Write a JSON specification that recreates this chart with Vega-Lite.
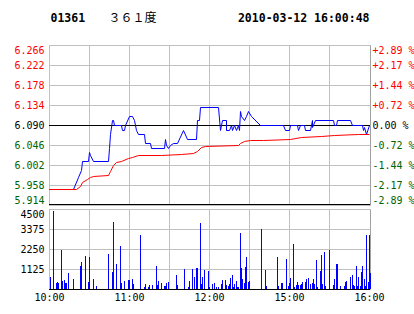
{
  "$schema": "https://vega.github.io/schema/vega-lite/v6.json",
  "background": "white",
  "padding": {"left": 13, "top": 10, "right": 0, "bottom": 0},
  "spacing": 4,
  "bounds": "flush",
  "config": {
    "view": {"stroke": "#A0A0A0", "strokeWidth": 1},
    "axis": {"labelFont": "DejaVu Sans Mono", "labelFontSize": 10, "labelColor": "black", "ticks": false, "domain": false, "gridColor": "#C0C0C0", "gridWidth": 1, "labelOverlap": false}
  },
  "datasets": {
    "price": [
      {"m": 0, "p": 5.95}, {"m": 18, "p": 5.95}, {"m": 22, "p": 5.975}, {"m": 24, "p": 5.99}, {"m": 25, "p": 6.01},
      {"m": 29, "p": 6.01}, {"m": 30, "p": 6.03}, {"m": 31, "p": 6.025}, {"m": 33, "p": 6.01}, {"m": 44, "p": 6.01},
      {"m": 45, "p": 6.04}, {"m": 46, "p": 6.07}, {"m": 47, "p": 6.10}, {"m": 48, "p": 6.10}, {"m": 49, "p": 6.09},
      {"m": 54, "p": 6.09}, {"m": 55, "p": 6.08}, {"m": 56, "p": 6.08}, {"m": 57, "p": 6.09}, {"m": 60, "p": 6.11},
      {"m": 62.5, "p": 6.11}, {"m": 64, "p": 6.10}, {"m": 65.5, "p": 6.08}, {"m": 67, "p": 6.07}, {"m": 71, "p": 6.07},
      {"m": 72, "p": 6.05}, {"m": 75.5, "p": 6.05}, {"m": 76.5, "p": 6.04}, {"m": 86, "p": 6.04}, {"m": 87, "p": 6.06},
      {"m": 88, "p": 6.045}, {"m": 89, "p": 6.04}, {"m": 91, "p": 6.045}, {"m": 93, "p": 6.05}, {"m": 96, "p": 6.05},
      {"m": 100.5, "p": 6.08}, {"m": 103.5, "p": 6.06}, {"m": 110.5, "p": 6.06}, {"m": 111, "p": 6.10}, {"m": 112.5, "p": 6.10},
      {"m": 113, "p": 6.13}, {"m": 127, "p": 6.13}, {"m": 128.5, "p": 6.08}, {"m": 129.5, "p": 6.10}, {"m": 132.5, "p": 6.10},
      {"m": 133, "p": 6.08}, {"m": 135, "p": 6.08}, {"m": 136.5, "p": 6.09}, {"m": 137.5, "p": 6.08}, {"m": 139, "p": 6.09},
      {"m": 140, "p": 6.08}, {"m": 141.5, "p": 6.09}, {"m": 142.5, "p": 6.08}, {"m": 143, "p": 6.12}, {"m": 144, "p": 6.11},
      {"m": 146, "p": 6.10}, {"m": 148, "p": 6.11}, {"m": 149.5, "p": 6.12}, {"m": 151.5, "p": 6.11}, {"m": 158.5, "p": 6.09},
      {"m": 175.5, "p": 6.09}, {"m": 177, "p": 6.08}, {"m": 180, "p": 6.08}, {"m": 181, "p": 6.09}, {"m": 186, "p": 6.09},
      {"m": 187, "p": 6.08}, {"m": 188, "p": 6.09}, {"m": 191, "p": 6.09}, {"m": 192, "p": 6.08}, {"m": 196, "p": 6.08},
      {"m": 196.5, "p": 6.09}, {"m": 197, "p": 6.10}, {"m": 197.5, "p": 6.085}, {"m": 199.5, "p": 6.10}, {"m": 213, "p": 6.10},
      {"m": 214, "p": 6.09}, {"m": 215, "p": 6.09}, {"m": 216, "p": 6.10}, {"m": 226, "p": 6.10}, {"m": 227, "p": 6.09},
      {"m": 234.5, "p": 6.09}, {"m": 235.5, "p": 6.08}, {"m": 236.5, "p": 6.085}, {"m": 238, "p": 6.07}, {"m": 240, "p": 6.09}
    ],
    "avg": [
      {"m": 0, "a": 5.95}, {"m": 20, "a": 5.95}, {"m": 23.5, "a": 5.956}, {"m": 25, "a": 5.965}, {"m": 28.5, "a": 5.971},
      {"m": 30.5, "a": 5.975}, {"m": 33, "a": 5.978}, {"m": 44, "a": 5.98}, {"m": 46, "a": 5.988}, {"m": 48, "a": 6.003},
      {"m": 50.5, "a": 6.008}, {"m": 54, "a": 6.011}, {"m": 59, "a": 6.017}, {"m": 62, "a": 6.02}, {"m": 66.5, "a": 6.023},
      {"m": 84, "a": 6.025}, {"m": 99, "a": 6.026}, {"m": 108, "a": 6.029}, {"m": 111, "a": 6.033}, {"m": 114, "a": 6.042},
      {"m": 117, "a": 6.044}, {"m": 141.5, "a": 6.045}, {"m": 143, "a": 6.051}, {"m": 146.5, "a": 6.055}, {"m": 150.5, "a": 6.057},
      {"m": 160.5, "a": 6.058}, {"m": 180.5, "a": 6.06}, {"m": 189, "a": 6.063}, {"m": 204, "a": 6.066}, {"m": 214, "a": 6.067},
      {"m": 231.5, "a": 6.07}, {"m": 240, "a": 6.071}
    ],
    "vol": [
      {"m": 1, "v": 700}, {"m": 3, "v": 4370}, {"m": 5, "v": 340}, {"m": 6, "v": 420}, {"m": 7, "v": 320}, {"m": 9, "v": 2180},
      {"m": 10, "v": 475}, {"m": 11, "v": 530}, {"m": 12, "v": 360}, {"m": 13, "v": 360}, {"m": 14, "v": 910}, {"m": 18, "v": 590},
      {"m": 23, "v": 1270}, {"m": 24, "v": 1500}, {"m": 27, "v": 1840}, {"m": 29, "v": 420}, {"m": 30, "v": 1785}, {"m": 33, "v": 590},
      {"m": 35, "v": 190}, {"m": 44, "v": 1955}, {"m": 47, "v": 930}, {"m": 48, "v": 3780}, {"m": 50, "v": 1385}, {"m": 53, "v": 2410},
      {"m": 54, "v": 360}, {"m": 56, "v": 475}, {"m": 59, "v": 530}, {"m": 60, "v": 530}, {"m": 62, "v": 590}, {"m": 63, "v": 300},
      {"m": 68, "v": 3040}, {"m": 71, "v": 130}, {"m": 72, "v": 300}, {"m": 74, "v": 130}, {"m": 75, "v": 250}, {"m": 77, "v": 250},
      {"m": 80, "v": 1270}, {"m": 81, "v": 250}, {"m": 82, "v": 475}, {"m": 84, "v": 360}, {"m": 86, "v": 190}, {"m": 87, "v": 190},
      {"m": 88, "v": 360}, {"m": 89, "v": 420}, {"m": 95, "v": 760}, {"m": 96, "v": 250}, {"m": 101, "v": 1100}, {"m": 104, "v": 130},
      {"m": 105, "v": 475}, {"m": 107, "v": 1100}, {"m": 109, "v": 700}, {"m": 110, "v": 1160}, {"m": 111, "v": 1160}, {"m": 113, "v": 3720},
      {"m": 114, "v": 300}, {"m": 115, "v": 700}, {"m": 116, "v": 1045}, {"m": 119, "v": 985}, {"m": 120, "v": 130},
      {"m": 122, "v": 300}, {"m": 124, "v": 360}, {"m": 125, "v": 130}, {"m": 127, "v": 130}, {"m": 129, "v": 300}, {"m": 130, "v": 530},
      {"m": 132, "v": 530}, {"m": 133, "v": 250}, {"m": 134, "v": 190}, {"m": 135, "v": 300}, {"m": 136, "v": 645}, {"m": 137, "v": 815},
      {"m": 138, "v": 130}, {"m": 139, "v": 300}, {"m": 140, "v": 475}, {"m": 141, "v": 130}, {"m": 142, "v": 130}, {"m": 143, "v": 3150},
      {"m": 144, "v": 1160}, {"m": 145, "v": 590}, {"m": 146, "v": 360}, {"m": 147, "v": 1215}, {"m": 148, "v": 1785}, {"m": 149, "v": 420},
      {"m": 150, "v": 475}, {"m": 159, "v": 3380}, {"m": 162, "v": 1045}, {"m": 163, "v": 190}, {"m": 171, "v": 1785}, {"m": 172, "v": 190},
      {"m": 174, "v": 360}, {"m": 175, "v": 360}, {"m": 178, "v": 1670}, {"m": 179, "v": 190}, {"m": 180, "v": 360}, {"m": 181, "v": 645},
      {"m": 183, "v": 2525}, {"m": 184, "v": 130}, {"m": 185, "v": 250}, {"m": 186, "v": 420}, {"m": 187, "v": 250}, {"m": 188, "v": 250},
      {"m": 189, "v": 300}, {"m": 190, "v": 420}, {"m": 192, "v": 420}, {"m": 193, "v": 590}, {"m": 194, "v": 645}, {"m": 196, "v": 300},
      {"m": 197, "v": 360}, {"m": 198, "v": 590}, {"m": 199, "v": 300}, {"m": 200, "v": 1615}, {"m": 201, "v": 130}, {"m": 203, "v": 985},
      {"m": 204, "v": 1900}, {"m": 205, "v": 300}, {"m": 206, "v": 2070}, {"m": 207, "v": 190}, {"m": 210, "v": 2180}, {"m": 213, "v": 250},
      {"m": 214, "v": 590}, {"m": 215, "v": 1385}, {"m": 216, "v": 1385}, {"m": 218, "v": 190}, {"m": 221, "v": 190}, {"m": 222, "v": 420},
      {"m": 223, "v": 475}, {"m": 226, "v": 700}, {"m": 227, "v": 815}, {"m": 228, "v": 250}, {"m": 229, "v": 190}, {"m": 230, "v": 1270},
      {"m": 231, "v": 190}, {"m": 232, "v": 700}, {"m": 233, "v": 190}, {"m": 234, "v": 930}, {"m": 235, "v": 1270}, {"m": 236, "v": 590},
      {"m": 237, "v": 190}, {"m": 238, "v": 3040}, {"m": 239, "v": 420}, {"m": 240, "v": 3040}, {"m": 241, "v": 880}
    ]
  },
  "vconcat": [
    {
      "width": 321,
      "height": 160,
      "resolve": {"axis": {"x": "independent", "y": "independent"}},
      "layer": [
        {
          "data": {"values": [{}]},
          "mark": {"type": "rule", "color": "black", "strokeWidth": 1, "yOffset": 0.5},
          "encoding": {"y": {"datum": 6.09, "type": "quantitative", "axis": null}}
        },
        {
          "data": {"name": "price"},
          "mark": {"type": "line", "color": "#0000FF", "strokeWidth": 1, "xOffset": 0.5, "yOffset": 0.5},
          "encoding": {
            "x": {
              "field": "m", "type": "quantitative",
              "scale": {"domain": [0, 240.75], "nice": false, "zero": false, "round": true},
              "axis": {
                "orient": "bottom", "values": [0, 30, 60, 90, 120, 150, 180, 210], "labels": false, "grid": true,
                "title": "３６１度", "titleX": 59, "titleY": -184, "titleAlign": "left", "titleBaseline": "alphabetic", "titleAngle": 0,
                "titleFont": "Noto Sans CJK SC", "titleFontSize": 12, "titleFontWeight": "normal", "titleColor": "black"
              }
            },
            "y": {
              "field": "p", "type": "quantitative",
              "scale": {"domain": [5.914, 6.266], "nice": false, "zero": false, "round": true},
              "axis": {
                "orient": "left",
                "values": [5.914, 5.958, 6.002, 6.046, 6.09, 6.134, 6.178, 6.222, 6.266],
                "format": ".3f", "grid": true, "labelFlush": true, "labelPadding": 5,
                "labelColor": {"condition": [{"test": "datum.value > 6.0905", "value": "#FF0000"}, {"test": "datum.value < 6.0895", "value": "#006400"}], "value": "black"},
                "title": "01361", "titleX": 1, "titleY": -24, "titleAlign": "left", "titleBaseline": "alphabetic", "titleAngle": 0,
                "titleFont": "DejaVu Sans Mono", "titleFontSize": 11.5, "titleFontWeight": "bold", "titleColor": "black"
              }
            }
          }
        },
        {
          "data": {"name": "avg"},
          "mark": {"type": "line", "color": "#FF0000", "strokeWidth": 1, "xOffset": 0.5, "yOffset": 0.5},
          "encoding": {
            "x": {"field": "m", "type": "quantitative", "axis": null},
            "y": {
              "field": "a", "type": "quantitative",
              "axis": {
                "orient": "right",
                "values": [5.914, 5.958, 6.002, 6.046, 6.09, 6.134, 6.178, 6.222, 6.266],
                "grid": false, "labelFlush": true, "labelPadding": 2, "labelAlign": "left",
                "labelExpr": "(datum.value > 6.0905 ? '+' : datum.value < 6.0895 ? '-' : '\u00a0') + format(abs(datum.value - 6.09) / 6.09 * 100, '.2f') + ' %'",
                "labelColor": {"condition": [{"test": "datum.value > 6.0905", "value": "#FF0000"}, {"test": "datum.value < 6.0895", "value": "#006400"}], "value": "black"},
                "title": "2010-03-12 16:00:48", "titleX": -1, "titleY": -24, "titleAlign": "right", "titleBaseline": "alphabetic", "titleAngle": 0,
                "titleFont": "DejaVu Sans Mono", "titleFontSize": 11.5, "titleFontWeight": "bold", "titleColor": "black"
              }
            }
          }
        },
        {
          "data": {"values": [{}]},
          "mark": {"type": "rule", "color": "black", "strokeWidth": 1, "yOffset": -0.5},
          "encoding": {"y": {"datum": 5.914, "type": "quantitative", "axis": null}}
        }
      ]
    },
    {
      "width": 321,
      "height": 80,
      "resolve": {"axis": {"x": "independent", "y": "independent"}},
      "layer": [
        {
          "data": {"name": "vol"},
          "mark": {"type": "rule", "color": "#0000FF", "strokeWidth": 1, "xOffset": 0.5},
          "encoding": {
            "x": {
              "field": "m", "type": "quantitative",
              "scale": {"domain": [0, 240.75], "nice": false, "zero": false, "round": true},
              "axis": {
                "orient": "bottom", "values": [0, 30, 60, 90, 120, 150, 180, 210, 240], "grid": true,
                "gridOpacity": {"condition": {"test": "datum.value == 240", "value": 0}, "value": 1},
                "labelFlush": false, "labelPadding": 3, "title": null,
                "labelExpr": "datum.value == 0 ? '10:00' : datum.value == 60 ? '11:00' : datum.value == 120 ? '12:00' : datum.value == 180 ? '15:00' : datum.value == 240 ? '16:00' : ''"
              }
            },
            "y": {
              "field": "v", "type": "quantitative",
              "scale": {"domain": [0, 4500], "nice": false, "round": true},
              "axis": {
                "orient": "left", "values": [0, 1125, 2250, 3375, 4500], "format": "d", "grid": true,
                "labelFlush": true, "labelPadding": 5, "title": null,
                "labelExpr": "datum.value == 0 ? '' : datum.label"
              }
            },
            "y2": {"datum": 0}
          }
        },
        {
          "data": {"values": [{}]},
          "mark": {"type": "rule", "color": "black", "strokeWidth": 1, "yOffset": 0.5},
          "encoding": {"y": {"datum": 0, "type": "quantitative", "axis": null}}
        }
      ]
    }
  ]
}
